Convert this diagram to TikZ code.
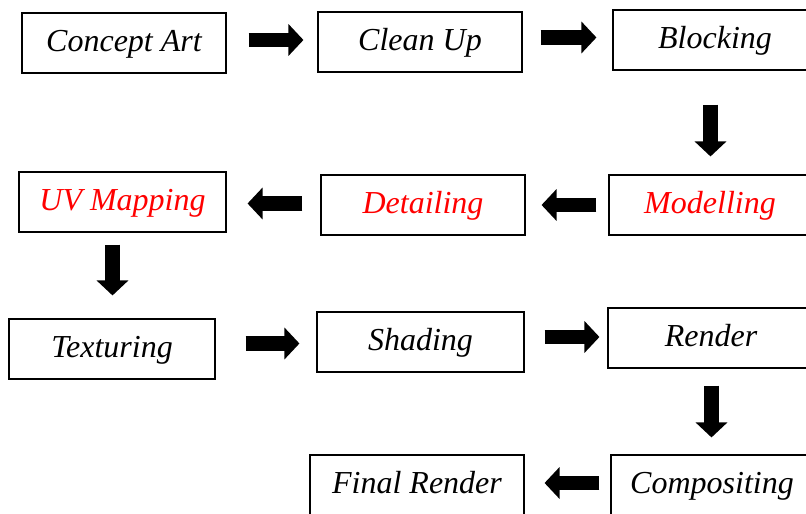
\documentclass[tikz,border=0pt]{standalone}
\usepackage{fontspec}
\setmainfont{Liberation Serif}
\usetikzlibrary{arrows.meta,calc}
\tikzset{
  stage/.style={draw=black, line width=1.1pt, fill=white, inner sep=0pt,
    minimum height=60pt, text height=22pt, text depth=4pt,
    font=\fontsize{32}{34}\selectfont\itshape},
  redtext/.style={text=red},
  barrow/.style={line width=14.5pt, -{Triangle[length=15pt,width=31pt]}}
}
\begin{document}
\begin{tikzpicture}[x=1pt,y=1pt]
\useasboundingbox (0,0) rectangle (806,514);
\clip (0,0) rectangle (806,514);
\fill[white] (0,0) rectangle (806,514);
% row 1
\node[stage, minimum width=204pt] (ca) at (124,471) {Concept Art};
\node[stage, minimum width=204pt] (cu) at (420,472) {Clean Up};
\node[stage, minimum width=204pt] (bl) at (715,474) {Blocking};
% row 2
\node[stage, redtext, minimum width=202pt] (mo) at (710,309) {Modelling};
\node[stage, redtext, minimum width=204pt] (de) at (423,309) {Detailing};
\node[stage, redtext, minimum width=207pt] (uv) at (122.5,312) {UV Mapping};
% row 3
\node[stage, minimum width=206pt] (te) at (112,165) {Texturing};
\node[stage, minimum width=207pt] (sh) at (420.5,172) {Shading};
\node[stage, minimum width=206pt] (re) at (711,176) {Render};
% row 4
\node[stage, minimum width=202pt] (co) at (712,29) {Compositing};
\node[stage, minimum width=214pt] (fr) at (417,29) {Final Render};
% arrows
\draw[barrow] ([xshift=22pt,yshift=3pt]ca.east) -- ([xshift=-14pt,yshift=2pt]cu.west);
\draw[barrow] ([xshift=18pt,yshift=4.5pt]cu.east) -- ([xshift=-16pt,yshift=2.5pt]bl.west);
\draw[barrow] ([xshift=-4.5pt,yshift=-34pt]bl.south) -- ([xshift=0.5pt,yshift=18pt]mo.north);
\draw[barrow] ([xshift=-12pt]mo.west) -- ([xshift=16pt]de.east);
\draw[barrow] ([xshift=-18pt,yshift=1.5pt]de.west) -- ([xshift=21pt,yshift=-1.5pt]uv.east);
\draw[barrow] ([xshift=-10pt,yshift=-12pt]uv.south) -- ([xshift=0.5pt,yshift=23pt]te.north);
\draw[barrow] ([xshift=30pt,yshift=5.5pt]te.east) -- ([xshift=-17pt,yshift=-1.5pt]sh.west);
\draw[barrow] ([xshift=20pt,yshift=5pt]sh.east) -- ([xshift=-8pt,yshift=1pt]re.west);
\draw[barrow] ([xshift=0.5pt,yshift=-17pt]re.south) -- ([xshift=-0.5pt,yshift=17pt]co.north);
\draw[barrow] ([xshift=-11pt,yshift=2pt]co.west) -- ([xshift=20pt,yshift=2pt]fr.east);
\end{tikzpicture}
\end{document}
